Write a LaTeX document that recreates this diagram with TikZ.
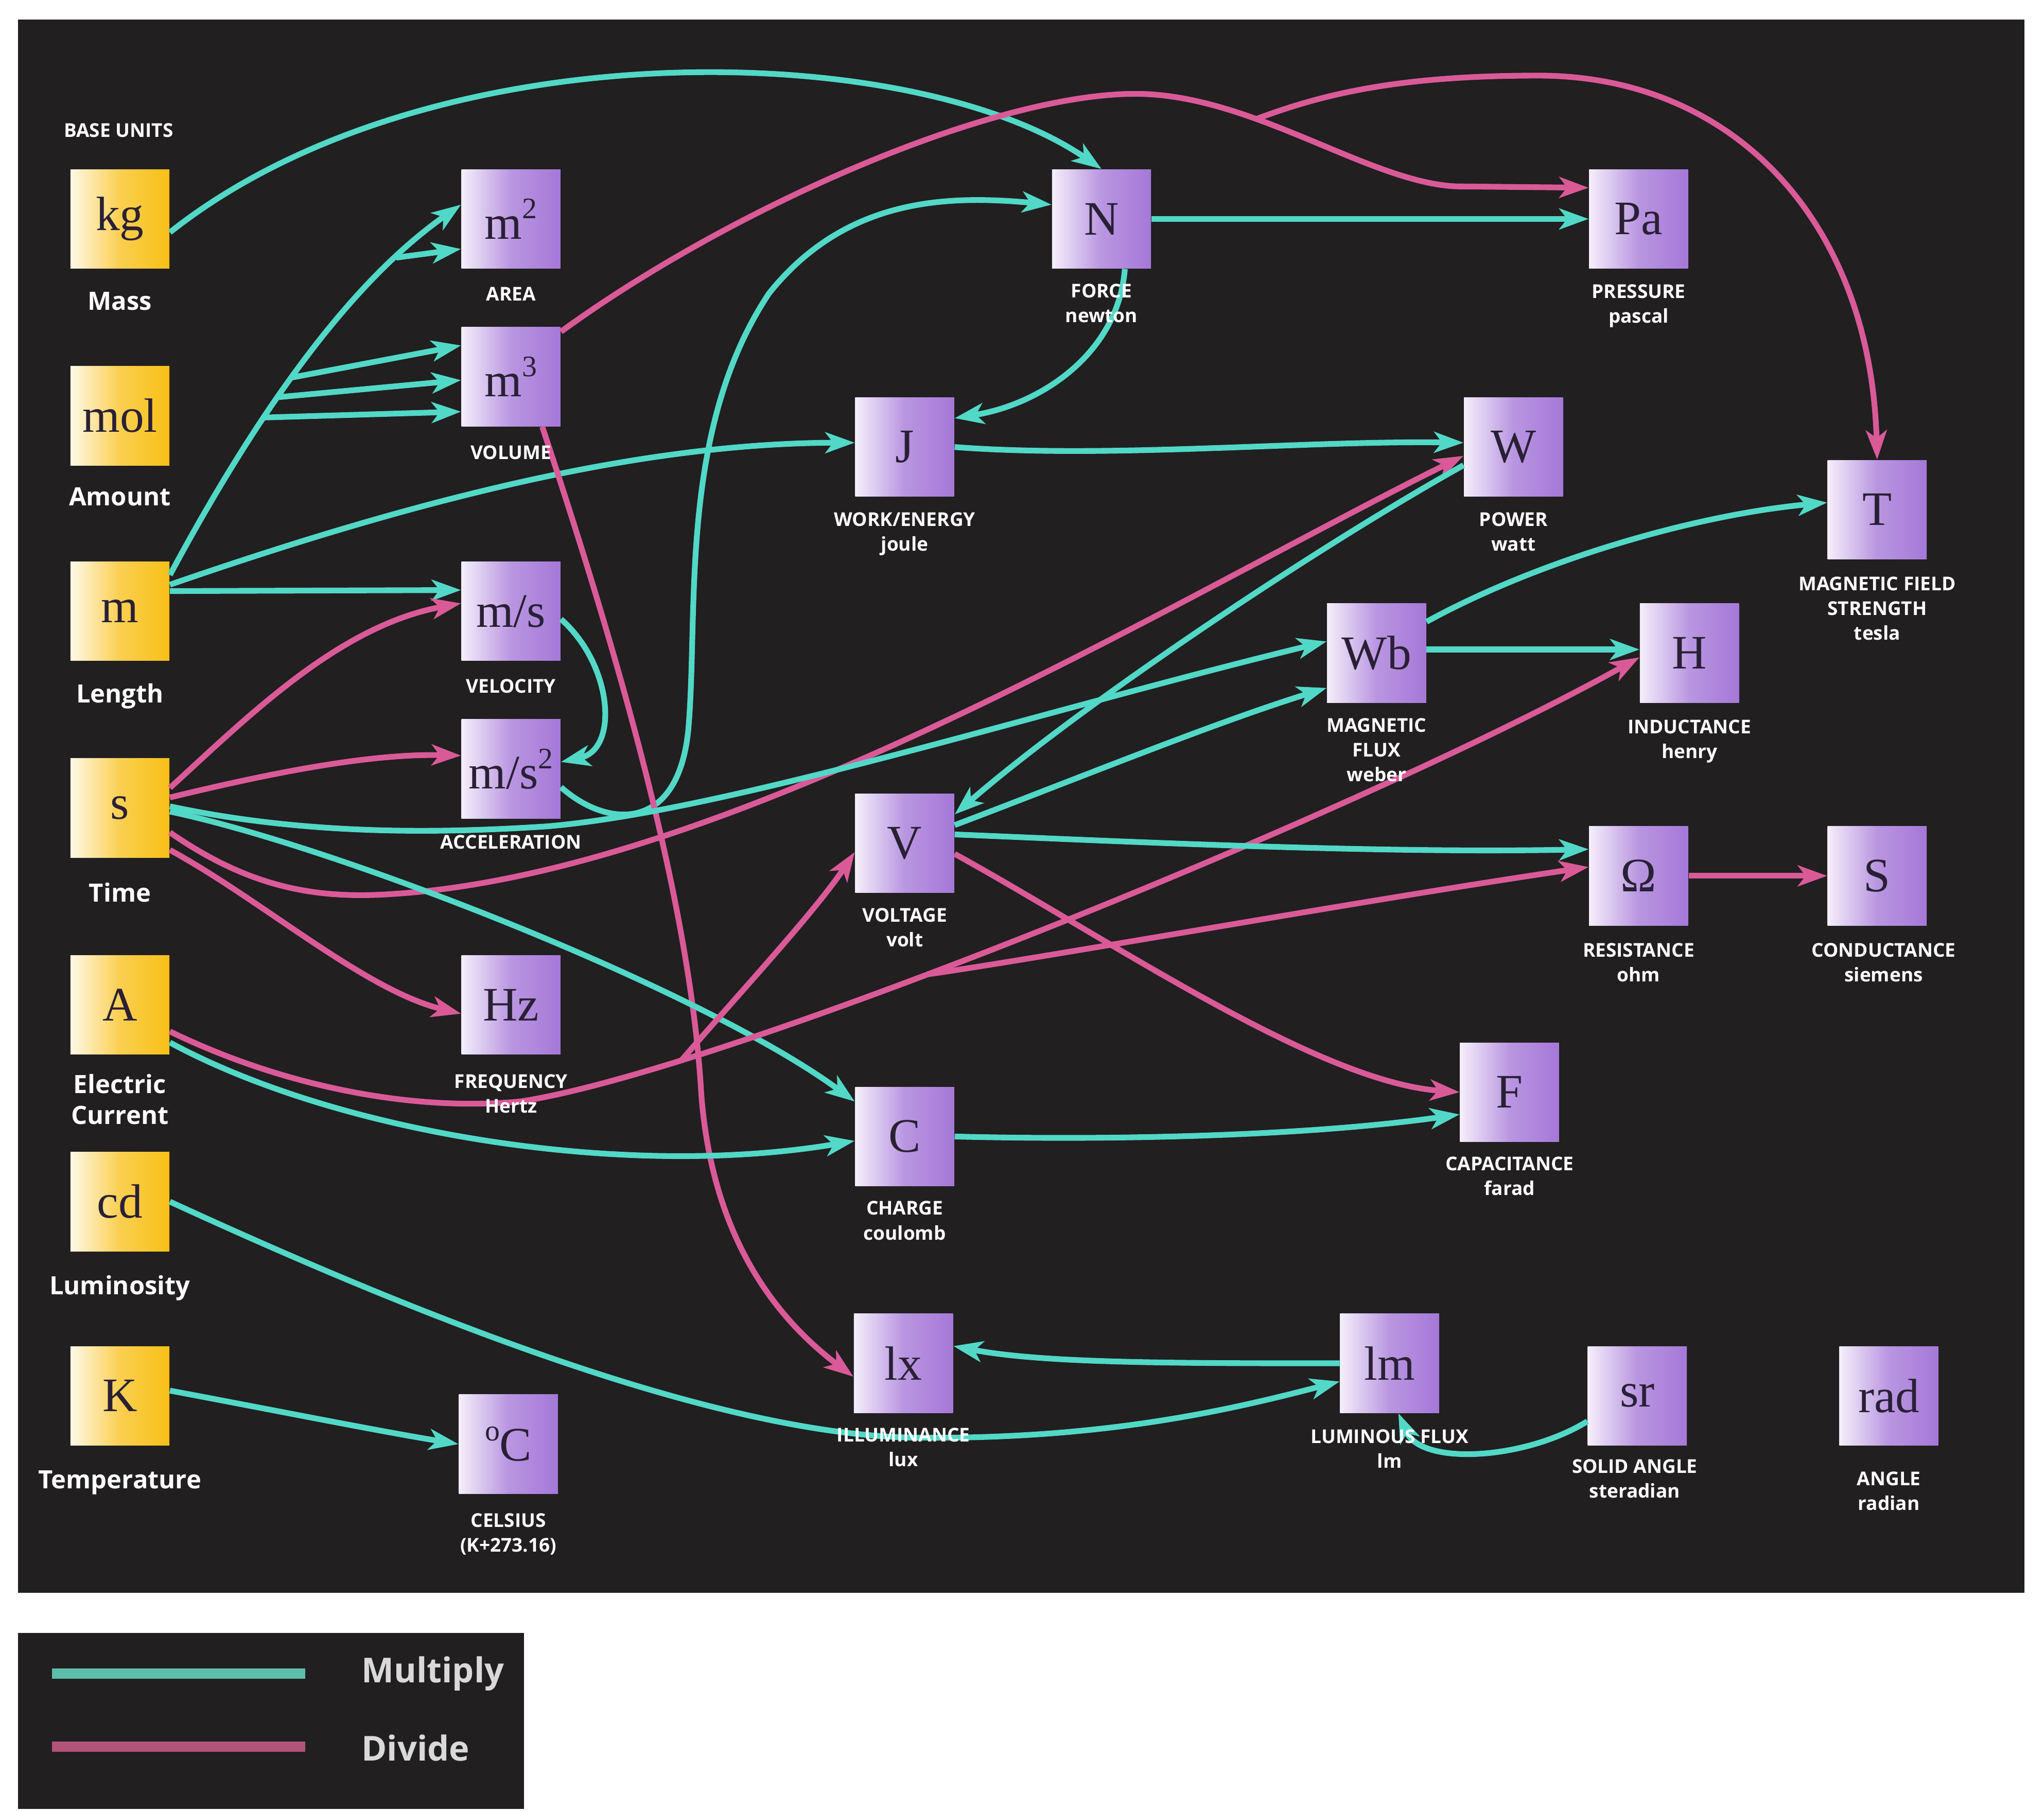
\documentclass[tikz,border=0pt]{standalone}
\usepackage{fontspec}
\setmainfont{Open Sans}
\newfontfamily\unitfont{Liberation Serif}
\usetikzlibrary{positioning,arrows.meta}
\definecolor{bgblack}{HTML}{211F20}
\definecolor{mulcyan}{HTML}{52D8C6}
\definecolor{divpink}{HTML}{DA5A98}
\definecolor{boxpurple}{HTML}{A578D8}
\definecolor{boxgold}{HTML}{F8BF16}
\definecolor{symdark}{HTML}{2A2035}
\definecolor{legcyan}{HTML}{5CBDAA}
\definecolor{legpink}{HTML}{B2537A}
\newcommand{\unitsup}[1]{\raisebox{0.42em}{\fontsize{13}{13}\selectfont #1}}
\begin{document}
\begin{tikzpicture}[x=0.02cm, y=-0.02cm]
  \tikzstyle{unitbox} = [rectangle, minimum width=1.52cm, minimum height=1.52cm, inner sep=0pt, text=symdark, font=\unitfont\fontsize{21}{21}\selectfont, left color=white!88!boxpurple, right color=boxpurple, middle color=boxpurple!78!white]
  \tikzstyle{basebox} = [unitbox, left color=white!90!boxgold, right color=boxgold, middle color=boxgold!75!white]
  \tikzstyle{lab} = [text=white, font=\bfseries\fontsize{8.3}{10.8}\selectfont, align=center, inner sep=0pt]
  \tikzstyle{baselab} = [lab, font=\bfseries\fontsize{11}{13.5}\selectfont]
  \tikzstyle{legtext} = [text=black!15, font=\bfseries\fontsize{15}{18}\selectfont, inner sep=0pt, anchor=west]
  \tikzstyle{mulline} = [mulcyan, line width=2.5pt, -{Stealth[length=0.45cm,width=0.32cm,inset=0.12cm]}]
  \tikzstyle{divline} = [divpink, line width=2.5pt, -{Stealth[length=0.45cm,width=0.32cm,inset=0.12cm]}]

  \useasboundingbox (0,0) rectangle (1568,1389.3);
  \fill[white] (0,0) rectangle (1568,1389.3);
  \fill[bgblack] (14,15) rectangle (1553,1222);
  \fill[bgblack] (14,1253) rectangle (402,1388);

  % base units
  \node (kg) [basebox] at (92,168) {kg};
  \node (mol) [basebox] at (92,319) {mol};
  \node (m) [basebox] at (92,469) {m};
  \node (s) [basebox] at (92,620) {s};
  \node (A) [basebox] at (92,771) {A};
  \node (cd) [basebox] at (92,922) {cd};
  \node (K) [basebox] at (92,1071) {K};

  % derived units
  \node (m2) [unitbox] at (392,168) {m\unitsup{2}};
  \node (m3) [unitbox] at (392,289) {m\unitsup{3}};
  \node (ms) [unitbox] at (392,469) {m/s};
  \node (mss) [unitbox] at (392,590) {m/s\unitsup{2}};
  \node (Hz) [unitbox] at (392,771) {Hz};
  \node (degC) [unitbox] at (390,1108) {\unitsup{o}C};
  \node (N) [unitbox] at (845,168) {N};
  \node (J) [unitbox] at (694,343) {J};
  \node (V) [unitbox] at (694,647) {V};
  \node (C) [unitbox] at (694,872) {C};
  \node (lx) [unitbox] at (693,1046) {lx};
  \node (Pa) [unitbox] at (1257,168) {Pa};
  \node (W) [unitbox] at (1161,343) {W};
  \node (Wb) [unitbox] at (1056,501) {Wb};
  \node (H) [unitbox] at (1296,501) {H};
  \node (T) [unitbox] at (1440,391) {T};
  \node (R) [unitbox] at (1257,672) {Ω};
  \node (S) [unitbox] at (1440,672) {S};
  \node (F) [unitbox] at (1158,838) {F};
  \node (lm) [unitbox] at (1066,1046) {lm};
  \node (sr) [unitbox] at (1256,1071) {sr};
  \node (rad) [unitbox] at (1449,1071) {rad};

  % multiply / divide
  \draw[mulline] (kg.-15) .. controls (330,20) and (700,30) .. (N.north);
  \draw[mulline] (m.36) .. controls (197,317) and (268,217) .. (m2.164) coordinate[pos=0.35] (fa) coordinate[pos=0.4] (fb) coordinate[pos=0.45] (fc) coordinate[pos=0.8] (fd);
  \draw[mulline] (fd) -- (m2.211);
  \draw[mulline] (fa) -- (m3.215);
  \draw[mulline] (fb) -- (m3.184);
  \draw[mulline] (fc) -- (m3.148);
  \draw[mulline] (m.28) .. controls (300,390) and (480,340) .. (J.175);
  \draw[mulline] (m.22) -- (ms.157);
  \draw[divline] (s.22) .. controls (190,550) and (260,480) .. (ms.171);
  \draw[divline] (s.12) .. controls (200,595) and (280,578) .. (mss.165);
  \draw[mulline] (ms.-9) .. controls (470,510) and (475,575) .. (mss.8);
  \draw[mulline] (mss.-20) .. controls (465,635) and (520,640) .. (528,560) .. controls (536,470) and (520,330) .. (590,225) .. controls (650,150) and (730,150) .. (N.164);
  \draw[divline] (m3.42) .. controls (560,160) and (760,72) .. (871,72) .. controls (960,72) and (1050,140) .. (1117,143) coordinate[pos=0.35] (tfork) -- (Pa.148);
  \draw[divline] (tfork) .. controls (1020,70) and (1080,58) .. (1180,58) .. controls (1330,58) and (1435,170) .. (T.north);
  \draw[divline] (m3.-58) .. controls (480,520) and (530,700) .. (538,840) .. controls (545,930) and (580,1000) .. (lx.195);
  \draw[mulline] (N.east) -- (Pa.west);
  \draw[mulline] (N.-65) .. controls (858,270) and (800,310) .. (J.30);
  \draw[mulline] (J.east) .. controls (850,352) and (1000,338) .. (W.175);
  \draw[divline] (s.-26) .. controls (190,680) and (240,690) .. (300,686) .. controls (560,670) and (900,460) .. (W.190);
  \draw[mulline] (s.2) .. controls (230,640) and (330,640) .. (420,634) .. controls (560,622) and (800,545) .. (Wb.167);
  \draw[mulline] (s.-4) .. controls (260,650) and (540,760) .. (C.145);
  \draw[divline] (s.-40) .. controls (200,690) and (280,760) .. (Hz.190);
  \draw[mulline] (A.-37) .. controls (260,870) and (480,905) .. (C.185);
  \draw[divline] (A.-28) .. controls (220,835) and (320,853) .. (400,845) .. controls (560,820) and (1050,620) .. (H.185) coordinate[pos=0.19] (vfork) coordinate[pos=0.4] (rfork);
  \draw[divline] (rfork) .. controls (800,735) and (1050,690) .. (R.170);
  \draw[divline] (vfork) .. controls (560,770) and (625,700) .. (V.190);
  \draw[mulline] (W.200) .. controls (1010,420) and (830,540) .. (V.30);
  \draw[mulline] (V.20) .. controls (820,600) and (930,555) .. (Wb.215);
  \draw[mulline] (V.10) .. controls (850,645) and (1050,655) .. (R.152);
  \draw[divline] (V.-12) .. controls (850,720) and (1010,830) .. (F.west);
  \draw[mulline] (C.east) .. controls (850,875) and (1000,872) .. (F.204);
  \draw[mulline] (Wb.4) -- (H.176);
  \draw[mulline] (Wb.32) .. controls (1180,430) and (1300,395) .. (T.172);
  \draw[divline] (R.east) -- (S.west);
  \draw[mulline] (cd.east) .. controls (300,1000) and (540,1100) .. (700,1103) .. controls (850,1105) and (950,1080) .. (lm.200);
  \draw[mulline] (lm.west) .. controls (900,1046) and (800,1046) .. (lx.19);
  \draw[mulline] (sr.207) .. controls (1170,1120) and (1090,1125) .. (lm.-80);
  \draw[mulline] (K.6) .. controls (200,1080) and (290,1098) .. (degC.west);

  % labels
  \node (baseunits) [lab] at (91,100) {BASE UNITS};
  \node (kglab) [baselab, below=0.35cm of kg] {Mass};
  \node (mollab) [baselab, below=0.33cm of mol] {Amount};
  \node (mlab) [baselab, below=0.34cm of m] {Length};
  \node (slab) [baselab, below=0.37cm of s] {Time};
  \node (Alab) [baselab, below=0.29cm of A] {Electric\\Current};
  \node (cdlab) [baselab, below=0.36cm of cd] {Luminosity};
  \node (Klab) [baselab, below=0.37cm of K] {Temperature};
  \node (m2lab) [lab, below=0.27cm of m2] {AREA};
  \node (m3lab) [lab, below=0.28cm of m3] {VOLUME};
  \node (mslab) [lab, below=0.27cm of ms] {VELOCITY};
  \node (msslab) [lab, below=0.24cm of mss] {ACCELERATION};
  \node (Hzlab) [lab, below=0.29cm of Hz] {FREQUENCY\\Hertz};
  \node (degClab) [lab, below=0.29cm of degC] {CELSIUS\\(K+273.16)};
  \node (Nlab) [lab, below=0.22cm of N] {FORCE\\newton};
  \node (Jlab) [lab, below=0.23cm of J] {WORK/ENERGY\\joule};
  \node (Vlab) [lab, below=0.22cm of V] {VOLTAGE\\volt};
  \node (Clab) [lab, below=0.22cm of C] {CHARGE\\coulomb};
  \node (lxlab) [lab, below=0.22cm of lx] {ILLUMINANCE\\lux};
  \node (Palab) [lab, below=0.23cm of Pa] {PRESSURE\\pascal};
  \node (Wlab) [lab, below=0.23cm of W] {POWER\\watt};
  \node (Wblab) [lab, below=0.23cm of Wb] {MAGNETIC\\FLUX\\weber};
  \node (Hlab) [lab, below=0.25cm of H] {INDUCTANCE\\henry};
  \node (Tlab) [lab, below=0.26cm of T] {MAGNETIC FIELD\\STRENGTH\\tesla};
  \node (Rlab) [lab, below=0.26cm of R] {RESISTANCE\\ohm};
  \node (Slab) [lab, below=0.26cm of S, xshift=0.1cm] {CONDUCTANCE\\siemens};
  \node (Flab) [lab, below=0.22cm of F] {CAPACITANCE\\farad};
  \node (lmlab) [lab, below=0.24cm of lm] {LUMINOUS FLUX\\lm};
  \node (srlab) [lab, below=0.2cm of sr, xshift=-0.04cm] {SOLID ANGLE\\steradian};
  \node (radlab) [lab, below=0.39cm of rad] {ANGLE\\radian};

  % legend
  \node (legmul) [legtext] at (277,1284) {Multiply};
  \node (legdiv) [legtext] at (277,1341) {Divide};
  \draw[legcyan, line width=4.5pt] (40,1284) -- (234,1284);
  \draw[legpink, line width=4.5pt] (40,1340) -- (234,1340);
\end{tikzpicture}
\end{document}
